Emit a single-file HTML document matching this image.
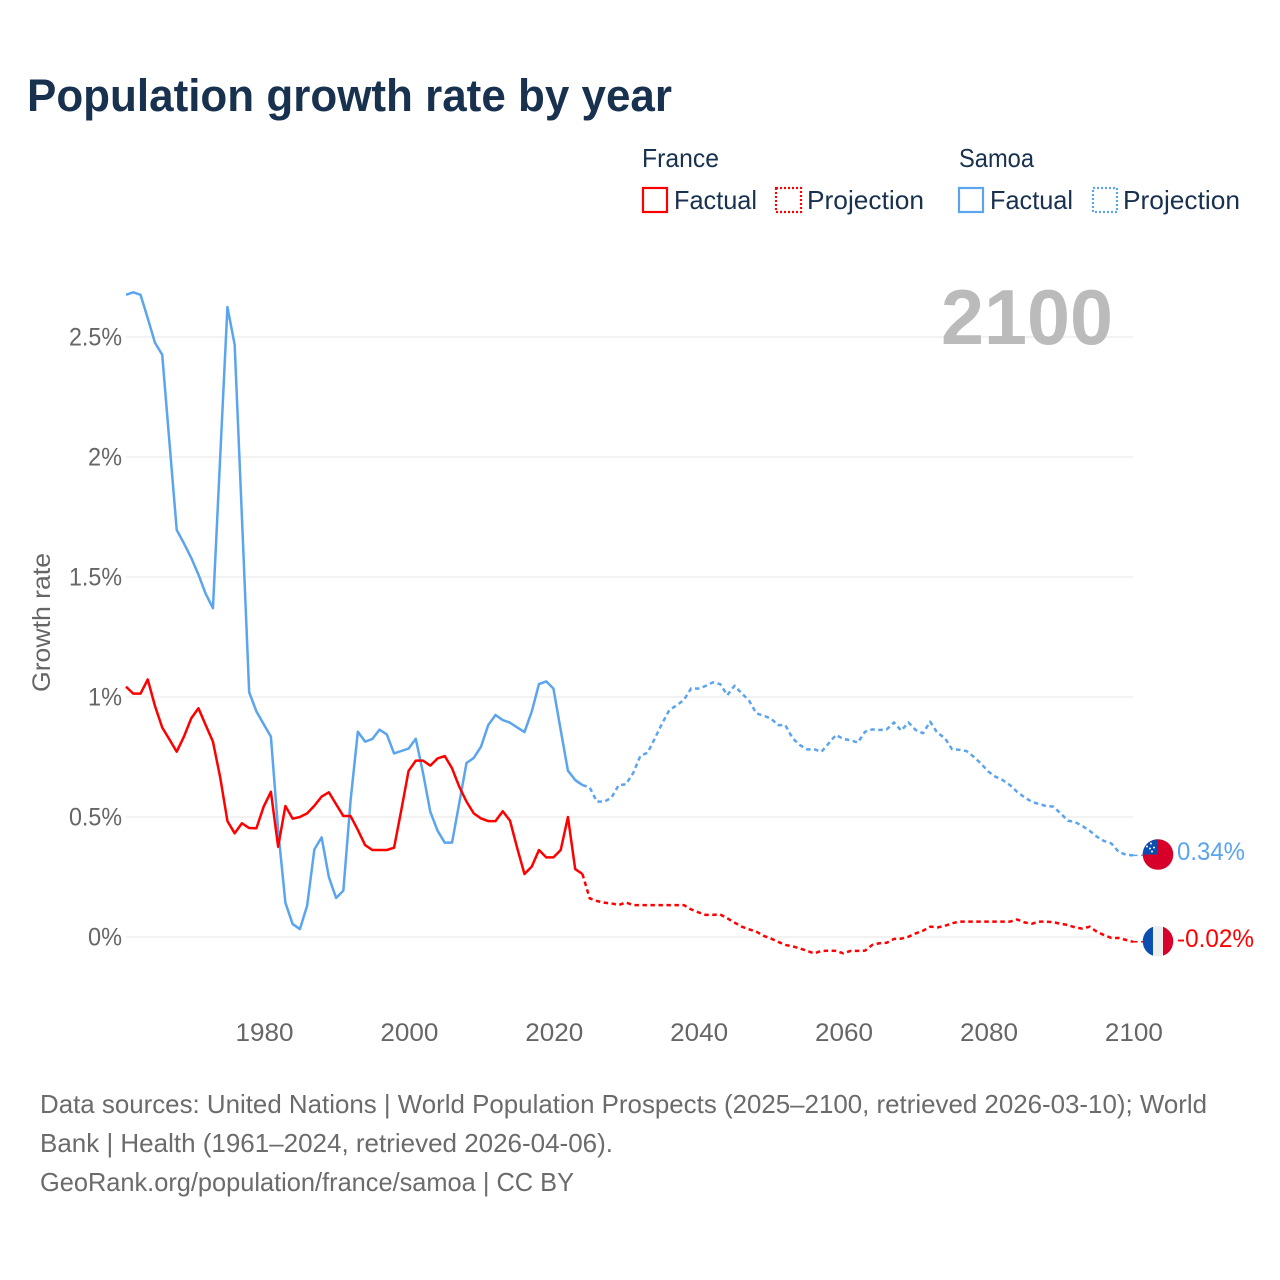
<!DOCTYPE html>
<html lang="en">
<head>
<meta charset="utf-8">
<title>Population growth rate by year</title>
<style>
html,body{margin:0;padding:0;background:#fff;width:1280px;height:1280px;overflow:hidden}
svg{display:block}
text{font-family:"Liberation Sans",sans-serif}
</style>
</head>
<body>
<svg id="chart" width="1280" height="1280" viewBox="0 0 1280 1280" xmlns="http://www.w3.org/2000/svg">
  <defs>
    <clipPath id="flag-clip"><circle cx="0" cy="0" r="15.3"/></clipPath>
  </defs>
  <rect x="0" y="0" width="1280" height="1280" fill="#ffffff"/>
  <text x="27" y="111" font-size="45" font-weight="700" fill="#18314f" textLength="645" lengthAdjust="spacingAndGlyphs">Population growth rate by year</text>

  <g font-size="26" fill="#18314f">
    <text x="642" y="167" textLength="77" lengthAdjust="spacingAndGlyphs">France</text>
    <rect x="643" y="188" width="24" height="24" fill="none" stroke="#ff0000" stroke-width="2.2"/>
    <text x="674" y="209" textLength="83" lengthAdjust="spacingAndGlyphs">Factual</text>
    <rect x="776" y="188" width="25" height="24" fill="none" stroke="#ff0000" stroke-width="2.2" stroke-dasharray="2 2"/>
    <text x="807" y="209" textLength="117" lengthAdjust="spacingAndGlyphs">Projection</text>
    <text x="959" y="167" textLength="75" lengthAdjust="spacingAndGlyphs">Samoa</text>
    <rect x="959" y="188" width="24" height="24" fill="none" stroke="#5ba4ee" stroke-width="2.2"/>
    <text x="990" y="209" textLength="83" lengthAdjust="spacingAndGlyphs">Factual</text>
    <rect x="1093" y="188" width="24" height="24" fill="none" stroke="#5ba4ee" stroke-width="2.2" stroke-dasharray="2 2"/>
    <text x="1123" y="209" textLength="117" lengthAdjust="spacingAndGlyphs">Projection</text>
  </g>

  <g id="grid"></g>
  <text x="941" y="344" font-size="78" font-weight="700" fill="#bbbbbb" textLength="172" lengthAdjust="spacingAndGlyphs">2100</text>
  <g id="y-axis"></g>
  <g id="x-axis"></g>
  <text transform="translate(50,692) rotate(-90)" x="0" y="0" font-size="25" fill="#666666" textLength="139" lengthAdjust="spacingAndGlyphs">Growth rate</text>
  <g id="series"></g>
  <g id="end-markers"></g>

  <g font-size="26" fill="#6b6b6b">
    <text x="40" y="1113" textLength="1167" lengthAdjust="spacingAndGlyphs">Data sources: United Nations | World Population Prospects (2025–2100, retrieved 2026-03-10); World</text>
    <text x="40" y="1152" textLength="573" lengthAdjust="spacingAndGlyphs">Bank | Health (1961–2024, retrieved 2026-04-06).</text>
    <text x="40" y="1191" textLength="534" lengthAdjust="spacingAndGlyphs">GeoRank.org/population/france/samoa | CC BY</text>
  </g>
</svg>

<script>
const factualStartYear = 1961;
const projectionStartYear = 2024;
const xTickLabels = [1980, 2000, 2020, 2040, 2060, 2080, 2100];
const yTickValues = [0, 0.5, 1, 1.5, 2, 2.5];

const franceFactual = [
  1.043,1.014,1.014,1.073,.9625,.873,.823,.772,.835,.911,
  .953,.883,.814,.665,.483,.432,.474,.454,.453,.543,
  .605,.376,.546,.493,.50,.515,.547,.585,.603,.553,
  .504,.504,.446,.383,.3625,.3625,.3625,.372,.529,.692,
  .735,.735,.714,.744,.754,.703,.626,.564,.515,.494,
  .483,.483,.524,.485,.37,.2625,.293,.3625,.332,.332,
  .3625,.50,.283,.2625
];
const franceProjection = [
  .2625,.161,.15,.143,.14,.133,.144,.133,.133,.133,
  .133,.133,.133,.133,.133,.115,.103,.092,.092,.094,
  .078,.06,.043,.032,.022,.005,-.006,-.02,-.033,-.039,
  -.047,-.058,-.068,-.058,-.057,-.058,-.068,-.058,-.058,-.057,
  -.033,-.026,-.024,-.008,-.007,.001,.015,.026,.043,.04,
  .046,.057,.064,.064,.064,.064,.064,.064,.064,.064,
  .073,.061,.055,.064,.064,.062,.055,.05,.04,.035,
  .043,.022,.008,-.004,-.004,-.012,-.02
];
const samoaFactual = [
  2.676,2.686,2.676,2.578,2.476,2.426,2.06,1.696,1.64,1.58,
  1.51,1.43,1.37,2.0,2.625,2.467,1.75,1.02,.94,.887,
  .835,.445,.143,.054,.033,.13,.365,.415,.25,.1625,
  .193,.57,.855,.814,.825,.864,.844,.765,.775,.785,
  .826,.683,.522,.443,.393,.393,.558,.725,.746,.793,
  .883,.925,.904,.893,.873,.854,.939,1.054,1.065,1.035,
  .8625,.693,.654,.633
];
const samoaProjection = [
  .633,.623,.564,.564,.58,.633,.636,.683,.755,.768,
  .828,.89,.946,.965,.9875,1.036,1.035,1.046,1.061,1.054,
  1.008,1.047,1.015,.985,.932,.922,.911,.883,.883,.828,
  .80,.782,.782,.772,.807,.842,.825,.82,.81,.855,
  .865,.8625,.865,.894,.86,.894,.8625,.849,.897,.85,
  .83,.783,.78,.775,.751,.723,.69,.668,.654,.633,
  .605,.582,.564,.554,.546,.543,.515,.485,.479,.4625,
  .443,.418,.40,.39,.355,.343,.34
];

const NS = 'http://www.w3.org/2000/svg';
function xScale(year) { return 126 + (year - 1961) * 7.245; }
function yScale(value) { return 937 - value * 240; }
function make(parent, tag, attrs) {
  const el = document.createElementNS(NS, tag);
  for (const k in attrs) el.setAttribute(k, attrs[k]);
  parent.appendChild(el);
  return el;
}
function linePoints(values, startYear) {
  return values.map((v, i) => xScale(startYear + i).toFixed(2) + ',' + yScale(v).toFixed(2)).join(' ');
}

const gridGroup = document.getElementById('grid');
const yAxisGroup = document.getElementById('y-axis');
yTickValues.forEach((v) => {
  const line = make(gridGroup, 'line', {x1: 126, x2: 1133, y1: yScale(v), y2: yScale(v), stroke: '#eeeeee', 'stroke-width': 1.5});
  
  
  const text = v + '%';
  const width = text.length > 2 ? 53 : 34;
  const label = make(yAxisGroup, 'text', {x: 122 - width, y: yScale(v) + 8.5, 'font-size': 25, fill: '#666666', textLength: width, lengthAdjust: 'spacingAndGlyphs'});
  label.textContent = text;
  
  
});

const xAxisGroup = document.getElementById('x-axis');
xTickLabels.forEach((year) => {
  const label = make(xAxisGroup, 'text', {x: xScale(year) - 28.2, y: 1041, 'font-size': 25, fill: '#666666', textLength: 58, lengthAdjust: 'spacingAndGlyphs'});
  label.textContent = String(year);
  
  
});

const seriesGroup = document.getElementById('series');
function drawLine(values, startYear, color, dashed, name) {
  const attrs = {points: linePoints(values, startYear), fill: 'none', stroke: color, 'stroke-width': 2.5, 'stroke-linejoin': 'round'};
  if (dashed) attrs['stroke-dasharray'] = '4.5 3.5';
  const el = make(seriesGroup, 'polyline', attrs);
  
  
}
drawLine(samoaFactual, factualStartYear, '#5ba4ee', false, 'line-samoa-factual');
drawLine(samoaProjection, projectionStartYear, '#5ba4ee', true, 'line-samoa-projection');
drawLine(franceFactual, factualStartYear, '#ff0000', false, 'line-france-factual');
drawLine(franceProjection, projectionStartYear, '#ff0000', true, 'line-france-projection');

const markerGroup = document.getElementById('end-markers');
function formatPct(v) { return v.toFixed(2) + '%'; }
function drawEnd(values, color, flag, name, offsetY) {
  const last = values[values.length - 1];
  const y = yScale(last);
  const cy = y + offsetY;
  const connector = make(markerGroup, 'line', {x1: xScale(2100), x2: 1144, y1: y, y2: y, stroke: color, 'stroke-width': 1.5, 'stroke-dasharray': '4.5 3.5'});
  
  
  const g = make(markerGroup, 'g', {transform: 'translate(1158,' + cy + ')', 'clip-path': 'url(#flag-clip)'});
  
  
  flag(g);
  const text = formatPct(last);
  const label = make(markerGroup, 'text', {x: 1177, y: cy + 5.5, 'font-size': 25, fill: color, textLength: text.length > 5 ? 77 : 68, lengthAdjust: 'spacingAndGlyphs'});
  label.textContent = text;
  
  
}
function samoaFlag(g) {
  make(g, 'rect', {x: -16, y: -16, width: 32, height: 32, fill: '#d6002a'});
  make(g, 'rect', {x: -16, y: -16, width: 16, height: 16, fill: '#0a4fb0'});
  [[-7,-11],[-4,-7],[-8,-6],[-11,-8],[-6,-3]].forEach((p) => make(g, 'circle', {cx: p[0], cy: p[1], r: 1, fill: '#ffffff'}));
}
function franceFlag(g) {
  make(g, 'rect', {x: -16, y: -16, width: 11, height: 32, fill: '#0a4fb0'});
  make(g, 'rect', {x: -5, y: -16, width: 10, height: 32, fill: '#eeeeee'});
  make(g, 'rect', {x: 5, y: -16, width: 11, height: 32, fill: '#d6002a'});
}
drawEnd(samoaProjection, '#5ba4ee', samoaFlag, 'samoa-end', -0.9);
drawEnd(franceProjection, '#ff0000', franceFlag, 'france-end', -0.5);
</script>
</body>
</html>
